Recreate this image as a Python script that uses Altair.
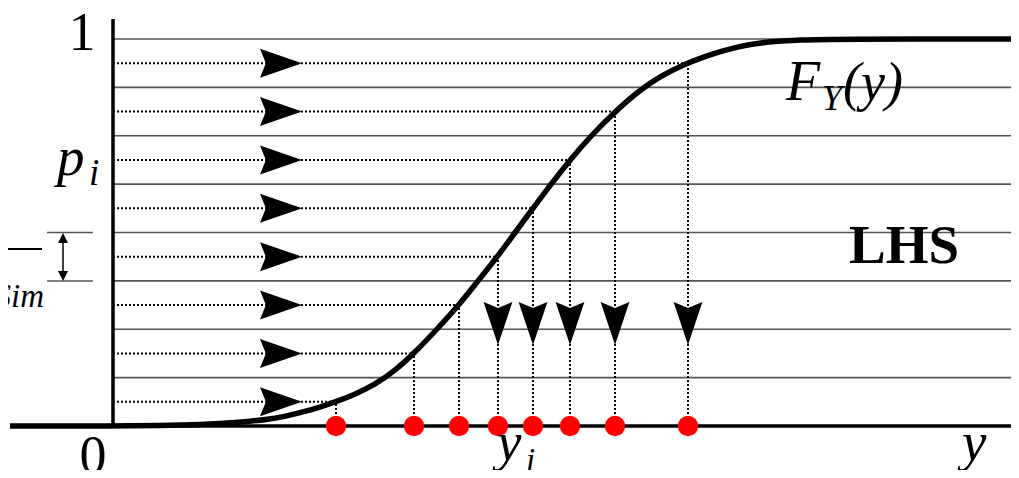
import altair as alt
import pandas as pd

# ---- data ----
n_strata = 8
curve_x = [10, 113, 160, 200, 240, 270, 285, 303, 320, 336, 355, 375, 395, 414, 437,
           459, 478, 497.5, 515, 533, 551, 570, 591, 615, 640, 662, 684, 700, 717,
           735, 750, 770, 800, 833, 1019]
curve_p = [0, 0, 0.001, 0.003, 0.009, 0.018, 0.025, 0.036, 0.049, 0.0625, 0.082,
           0.107, 0.143, 0.1875, 0.25, 0.3125, 0.375, 0.4375, 0.5, 0.5625, 0.625,
           0.6875, 0.75, 0.8125, 0.869, 0.906, 0.934, 0.950, 0.965, 0.978, 0.986,
           0.993, 0.998, 1, 1]
sample_x = [336, 414, 459, 498, 533, 570, 615, 688]   # y_i (red dots)
arrow_down_idx = [3, 4, 5, 6, 7]                        # samples with a down arrow

strata_p = [k / n_strata for k in range(1, n_strata + 1)]
mid_p = [(k - 0.5) / n_strata for k in range(1, n_strata + 1)]

# ---- geometry helpers (reference-pixel frame) ----
X0, X1 = 8, 1011
Y0, Y1 = 8, 470
XEND = 1019
def p_of(py):
    return (426 - py) / 387.0
YDOM = [p_of(Y1), p_of(Y0)]
xs = alt.Scale(domain=[X0, X1], nice=False, zero=False)
ys = alt.Scale(domain=YDOM, nice=False, zero=False)
AXIS_X = 113
SERIF = "Liberation Serif"

def X(f="x"):
    return alt.X(f"{f}:Q", scale=xs, axis=None)
def Y(f="p"):
    return alt.Y(f"{f}:Q", scale=ys, axis=None)

solid = pd.DataFrame({"p": strata_p, "x": AXIS_X, "x2": XEND})
dot_h = pd.DataFrame({"p": mid_p, "x": AXIS_X, "x2": sample_x})
dot_v = pd.DataFrame({"x": sample_x, "p": 0.0, "p2": mid_p})
curve = pd.DataFrame({"x": curve_x, "p": curve_p})
samples = pd.DataFrame({"x": sample_x, "p": 0.0})
right_arr = pd.DataFrame({"x": 281, "p": mid_p})
down_arr = pd.DataFrame({"x": [sample_x[i] for i in arrow_down_idx], "p": p_of(323.5)})

layers = []
layers.append(alt.Chart(solid).mark_rule(color="#555", strokeWidth=1.6).encode(
    x=X(), x2="x2:Q", y=Y()))
layers.append(alt.Chart(dot_h).mark_rule(color="black", strokeWidth=2, strokeDash=[2, 2]).encode(
    x=X(), x2="x2:Q", y=Y()))
layers.append(alt.Chart(dot_v).mark_rule(color="black", strokeWidth=2, strokeDash=[2, 2]).encode(
    x=X(), y=Y(), y2="p2:Q"))
# baseline and vertical axis
base = pd.DataFrame({"x": [10], "x2": [XEND], "p": [0.0]})
layers.append(alt.Chart(base).mark_rule(color="black", strokeWidth=3.5).encode(
    x=X(), x2="x2:Q", y=Y()))
vax = pd.DataFrame({"x": [AXIS_X], "p": [0.0], "p2": [p_of(19)]})
layers.append(alt.Chart(vax).mark_rule(color="black", strokeWidth=3.5).encode(
    x=X(), y=Y(), y2="p2:Q"))
# CDF curve
layers.append(alt.Chart(curve).mark_line(color="black", strokeWidth=5.5, interpolate="basis").encode(
    x=X(), y=Y(), order="x:Q"))
# arrowheads
RIGHT = "M1,0L-1,-0.69L-0.72,0L-1,0.69Z"
DOWN = "M0,1L-0.67,-1L0,-0.72L0.67,-1Z"
layers.append(alt.Chart(right_arr).mark_point(shape=RIGHT, size=42 * 42, filled=True,
                                              color="black", opacity=1, strokeWidth=0).encode(x=X(), y=Y()))
layers.append(alt.Chart(down_arr).mark_point(shape=DOWN, size=43 * 43, filled=True,
                                             color="black", opacity=1, strokeWidth=0).encode(x=X(), y=Y()))
# red sample points
layers.append(alt.Chart(samples).mark_circle(color="#ff0000", size=415, opacity=1).encode(x=X(), y=Y()))

# bracket showing 1/N_Sim
ticks = pd.DataFrame({"x": 47, "x2": 93, "p": [strata_p[2], strata_p[3]]})
layers.append(alt.Chart(ticks).mark_rule(color="#555", strokeWidth=1.5).encode(x=X(), x2="x2:Q", y=Y()))
brk = pd.DataFrame({"x": [63], "p": [p_of(236)], "p2": [p_of(278)]})
layers.append(alt.Chart(brk).mark_rule(color="black", strokeWidth=1.5).encode(x=X(), y=Y(), y2="p2:Q"))
up_head = pd.DataFrame({"x": [63], "p": [p_of(238)]})
dn_head = pd.DataFrame({"x": [63], "p": [p_of(276)]})
layers.append(alt.Chart(up_head).mark_point(shape="M0,-1L-1,1L1,1Z", size=100, filled=True,
                                            color="black", opacity=1).encode(x=X(), y=Y()))
layers.append(alt.Chart(dn_head).mark_point(shape="M0,1L-1,-1L1,-1Z", size=100, filled=True,
                                            color="black", opacity=1).encode(x=X(), y=Y()))
frac = pd.DataFrame({"x": [X0], "x2": [42], "p": [p_of(249)]})
layers.append(alt.Chart(frac).mark_rule(color="black", strokeWidth=2.2).encode(x=X(), x2="x2:Q", y=Y()))

# ---- texts ----
def txt(t, px, py, size, style="normal", weight="normal", align="left"):
    return alt.Chart(pd.DataFrame({"t": [t]})).mark_text(
        x=px - 8, y=py - 8, font=SERIF, fontSize=size, fontStyle=style, fontWeight=weight,
        align=align, baseline="alphabetic", color="black").encode(text="t:N")

layers += [
    txt("1", 82, 50, 54, align="center"),
    txt("0", 93, 473, 54, align="center"),
    txt("p", 57, 175, 55, style="italic"),
    txt("i", 89, 185, 37, style="italic"),
    txt("Sim", 44, 307, 33, style="italic", align="right"),
    txt("y", 497, 460, 55, style="italic"),
    txt("i", 526, 471, 33, style="italic"),
    txt("y", 962, 460, 55, style="italic"),
    txt("F", 786, 100, 56, style="italic"),
    txt("Y", 822, 110, 36, style="italic"),
    txt("(y)", 843, 100, 54, style="italic"),
    txt("LHS", 849, 263, 55, weight="bold"),
]

chart = alt.layer(*layers).properties(
    width=X1 - X0, height=Y1 - Y0,
    autosize=alt.AutoSizeParams(type="none"), padding=0,
).configure_view(stroke=None)

chart.save("out.html", embed_options={"renderer": "svg", "actions": False})
